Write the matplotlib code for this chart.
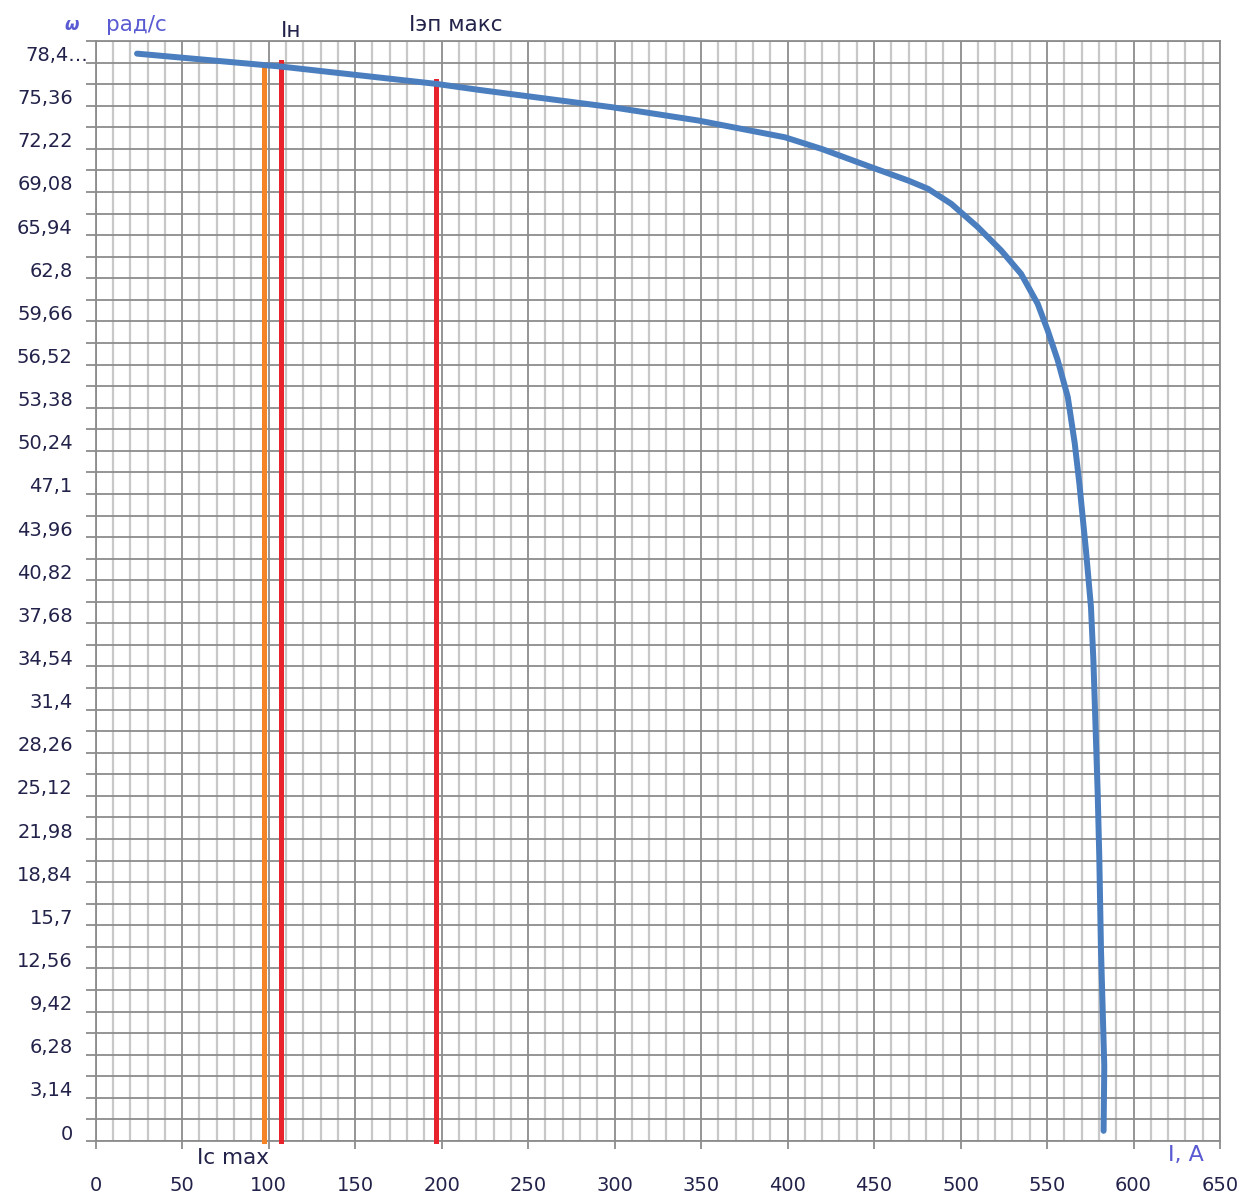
import numpy as np
import matplotlib
matplotlib.use("Agg")
import matplotlib.pyplot as plt
from matplotlib.ticker import FixedLocator, MultipleLocator
from matplotlib.transforms import ScaledTranslation

# Speed vs current characteristic of the motor
current_a = [23.9, 107.0, 196.8, 221.7, 298.5, 348.5, 398.5, 420.0, 448.5, 470.0,
             481.2, 494.6, 510.0, 523.5, 535.0, 544.6, 550.4, 556.2, 562.0, 566.0,
             568.7, 572.5, 575.4, 576.8, 579.3, 580.2, 581.2, 583.1, 582.7]
omega_rad_s = [79.15, 78.21, 76.95, 76.51, 75.25, 74.28, 73.06, 72.2, 70.88, 69.9,
               69.31, 68.22, 66.52, 64.82, 63.12, 60.94, 59.0, 56.82, 54.15, 50.8,
               47.85, 43.0, 38.87, 34.99, 25.26, 20.73, 13.9, 5.46, 0.74]

# Reference currents (vertical markers): value and top of the marker
i_c_max = 97.5
i_c_max_top = 78.4
i_nom = 107.3
i_nom_top = 78.52
i_ep_max = 196.7
i_ep_max_top = 77.14

# Axis ticks
x_ticks = [0, 50, 100, 150, 200, 250, 300, 350, 400, 450, 500, 550, 600, 650]
y_step = 3.14
y_ticks = [round(k * y_step, 2) for k in range(26)]
y_tick_labels = ["0", "3,14", "6,28", "9,42", "12,56", "15,7", "18,84", "21,98",
                 "25,12", "28,26", "31,4", "34,54", "37,68", "40,82", "43,96",
                 "47,1", "50,24", "53,38", "56,52", "59,66", "62,8", "65,94",
                 "69,08", "72,22", "75,36", "78,4…"]

W, H = 1243, 1193
fig = plt.figure(figsize=(W / 100, H / 100), dpi=100)
ax = fig.add_axes([95.7 / W, 1 - 1141 / H, (1220 - 95.7) / W, (1141 - 41) / H])

text_col = "#22224a"
axis_title_col = "#5a5ad2"
grid_dark = "#8c8c8c"
grid_light = "#c8c8c8"

ax.set_xlim(0, 650)
ax.set_ylim(0, 80.07)

ax.xaxis.set_major_locator(FixedLocator(x_ticks))
ax.xaxis.set_minor_locator(MultipleLocator(10))
ax.yaxis.set_major_locator(FixedLocator(y_ticks))
ax.yaxis.set_minor_locator(FixedLocator([y_step / 2 + k * y_step for k in range(26)]))
ax.set_yticklabels(y_tick_labels)
ax.set_xticklabels([str(v) for v in x_ticks])

ax.grid(which="major", axis="both", color=grid_dark, linewidth=1.3, zorder=0)
ax.grid(which="minor", axis="y", color=grid_dark, linewidth=1.3, zorder=0)
ax.grid(which="minor", axis="x", color=grid_light, linewidth=1.6, zorder=0)
ax.set_axisbelow(True)

for s in ax.spines.values():
    s.set_color(grid_dark)
    s.set_linewidth(1.3)

ax.tick_params(axis="x", which="major", direction="out", length=6, width=1.3,
               color=grid_dark, pad=19, labelsize=14, labelcolor=text_col)
ax.tick_params(axis="x", which="minor", length=0)
ax.tick_params(axis="y", which="both", direction="out", length=7.5, width=1.3,
               color=grid_dark, pad=9, labelsize=14, labelcolor=text_col)

# y labels sit slightly above their gridlines; the truncated top one runs further right
shift = ScaledTranslation(0, 9 / 100, fig.dpi_scale_trans)
ylabels = ax.yaxis.get_majorticklabels()
for lab in ylabels:
    lab.set_transform(lab.get_transform() + shift)
ylabels[-1].set_transform(ylabels[-1].get_transform()
                          + ScaledTranslation(15 / 100, 0, fig.dpi_scale_trans))

# Marker lines for the reference currents
ax.plot([i_c_max, i_c_max], [0, i_c_max_top], color="#f58426", linewidth=3.6,
        solid_capstyle="projecting", clip_on=False, zorder=3)
ax.plot([i_nom, i_nom], [0, i_nom_top], color="#e8232b", linewidth=3.6,
        solid_capstyle="projecting", clip_on=False, zorder=3)
ax.plot([i_ep_max, i_ep_max], [0, i_ep_max_top], color="#e8232b", linewidth=3.6,
        solid_capstyle="projecting", clip_on=False, zorder=3)

# Characteristic curve
ax.plot(current_a, omega_rad_s, color="#4a7ebf", linewidth=4.3,
        solid_capstyle="round", solid_joinstyle="round", zorder=4)

# Axis titles and marker labels
fig.text(64 / W, 1 - 25 / H, "ω", color=axis_title_col, fontsize=12,
         fontstyle="italic", fontweight="bold", ha="left", va="center")
fig.text(106 / W, 1 - 25 / H, "рад/с", color=axis_title_col, fontsize=15.5,
         ha="left", va="center")
fig.text(1168 / W, 1 - 1155 / H, "I, A", color=axis_title_col, fontsize=16,
         ha="left", va="center")
fig.text(281 / W, 1 - 31 / H, "Iн", color=text_col, fontsize=15.5,
         ha="left", va="center")
fig.text(409 / W, 1 - 25 / H, "Iэп макс", color=text_col, fontsize=15.5,
         ha="left", va="center")
fig.text(197 / W, 1 - 1158 / H, "Ic max", color=text_col, fontsize=15.5,
         ha="left", va="center")

fig.savefig("out.png", dpi=100, facecolor="white")
